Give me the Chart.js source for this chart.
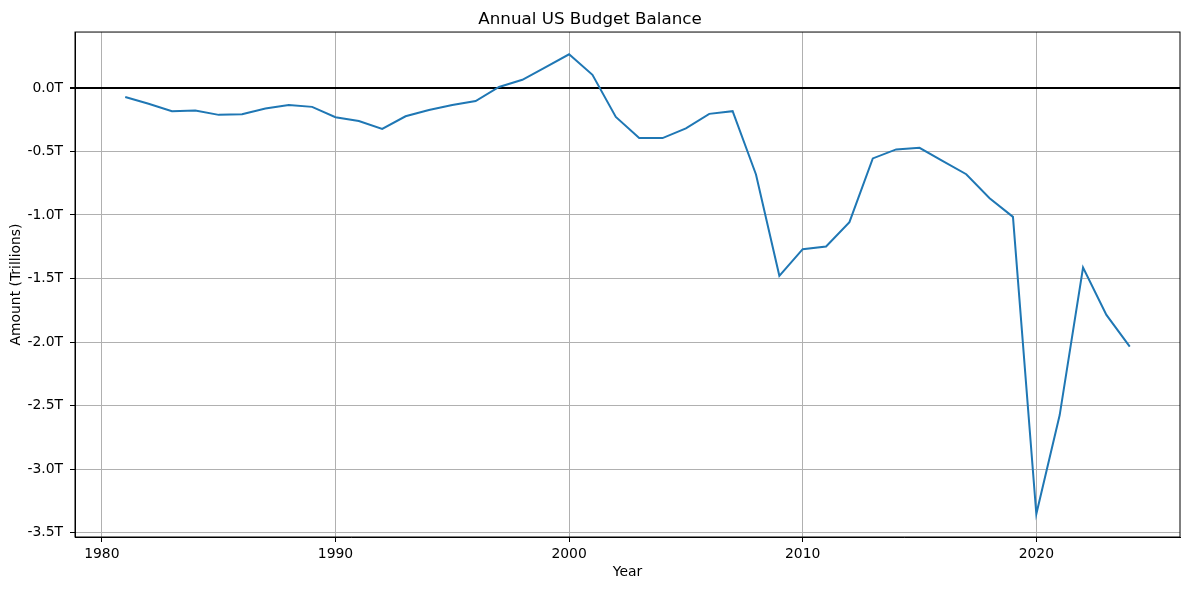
<!DOCTYPE html>
<html>
<head>
<meta charset="utf-8">
<script src="https://cdn.jsdelivr.net/npm/chart.js@4"></script>
<style>
    html, body { margin: 0; padding: 0; background: #fff; }
    #budgetChart { display: block; }
</style>
</head>
<body>
<canvas id="budgetChart" width="1189" height="590"></canvas>
<script>
const years = [1981, 1982, 1983, 1984, 1985, 1986, 1987, 1988, 1989, 1990,
    1991, 1992, 1993, 1994, 1995, 1996, 1997, 1998, 1999, 2000,
    2001, 2002, 2003, 2004, 2005, 2006, 2007, 2008, 2009, 2010,
    2011, 2012, 2013, 2014, 2015, 2016, 2017, 2018, 2019, 2020,
    2021, 2022, 2023, 2024];

// budget balance, trillions of dollars
const balance = [-0.072, -0.125, -0.183, -0.178, -0.212, -0.207, -0.162, -0.135, -0.149, -0.231,
    -0.260, -0.323, -0.223, -0.173, -0.135, -0.103, 0.008, 0.064, 0.164, 0.265,
    0.103, -0.228, -0.395, -0.395, -0.318, -0.204, -0.183, -0.681, -1.479, -1.269,
    -1.248, -1.057, -0.555, -0.484, -0.471, -0.576, -0.679, -0.868, -1.015, -3.354,
    -2.575, -1.414, -1.787, -2.036];

const yearTicks = [1980, 1990, 2000, 2010, 2020];
const amountTicks = [0, -0.5, -1.0, -1.5, -2.0, -2.5, -3.0, -3.5];

document.addEventListener('DOMContentLoaded', function() {
    createBudgetChart();
});

// matplotlib style frame: spines on top and right too
const framePlugin = {
    id: 'frame',
    afterDraw(chart) {
        const a = chart.chartArea;
        const c = chart.ctx;
        c.save();
        c.strokeStyle = '#000';
        c.lineWidth = 1;
        c.strokeRect(a.left, a.top, a.right - a.left, a.bottom - a.top);
        c.restore();
    }
};

function createBudgetChart() {
    const ctx = document.getElementById('budgetChart');
    const font = { family: 'DejaVu Sans', size: 13.9 };

    new Chart(ctx, {
        type: 'line',
        data: {
            datasets: [{
                label: 'Budget Balance',
                data: years.map((y, i) => ({ x: y, y: balance[i] })),
                borderColor: '#1f77b4',
                borderWidth: 2,
                pointRadius: 0,
                tension: 0,
                fill: false
            }]
        },
        options: {
            responsive: false,
            animation: false,
            layout: {
                padding: { left: 0, right: 9, top: 0, bottom: 0 }
            },
            plugins: {
                legend: { display: false },
                tooltip: { enabled: false },
                title: {
                    display: true,
                    text: 'Annual US Budget Balance',
                    color: '#000',
                    font: { family: 'DejaVu Sans', size: 16.7, weight: 'normal', lineHeight: 1.2 },
                    padding: { top: 10, bottom: 2 }
                }
            },
            scales: {
                x: {
                    type: 'linear',
                    min: 1978.85,
                    max: 2026.15,
                    afterBuildTicks: function(scale) {
                        scale.ticks = yearTicks.map(v => ({ value: v }));
                    },
                    afterFit: function(scale) {
                        scale.height = 53;
                    },
                    ticks: {
                        color: '#000',
                        font: font,
                        padding: 4,
                        maxRotation: 0,
                        callback: function(value) {
                            return String(value);
                        }
                    },
                    grid: {
                        color: '#b0b0b0',
                        lineWidth: 1,
                        tickColor: '#000',
                        tickLength: 5
                    },
                    border: { color: '#000', width: 1 },
                    title: {
                        display: true,
                        text: 'Year',
                        color: '#000',
                        font: font,
                        padding: { top: 0, bottom: 9 }
                    }
                },
                y: {
                    type: 'linear',
                    min: -3.535,
                    max: 0.44,
                    afterBuildTicks: function(scale) {
                        scale.ticks = amountTicks.map(v => ({ value: v }));
                    },
                    afterFit: function(scale) {
                        scale.width = 75;
                    },
                    ticks: {
                        color: '#000',
                        font: font,
                        padding: 7,
                        callback: function(value) {
                            return value.toFixed(1) + 'T';
                        }
                    },
                    grid: {
                        color: function(c) {
                            return c.tick && c.tick.value === 0 ? '#000' : '#b0b0b0';
                        },
                        lineWidth: function(c) {
                            return c.tick && c.tick.value === 0 ? 2 : 1;
                        },
                        tickColor: '#000',
                        tickLength: 5
                    },
                    border: { color: '#000', width: 1 },
                    title: {
                        display: true,
                        text: 'Amount (Trillions)',
                        color: '#000',
                        font: font,
                        padding: { top: 8, bottom: 0 }
                    }
                }
            }
        },
        plugins: [framePlugin]
    });
}
</script>
</body>
</html>
